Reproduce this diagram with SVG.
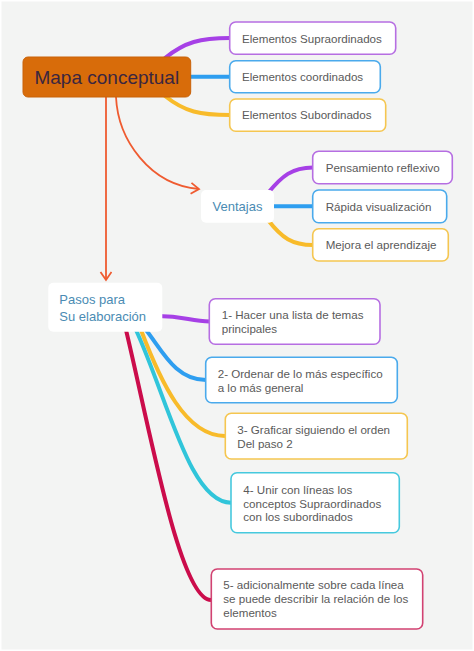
<svg xmlns="http://www.w3.org/2000/svg" width="474" height="651" viewBox="0 0 474 651">
<style>
  .bx{fill:#fff;stroke-width:1.6}
  .t{font-family:"Liberation Sans",Arial,sans-serif;font-size:11.6px;fill:#5a5a5a}
  .s{font-family:"Liberation Sans",Arial,sans-serif;font-size:13px;fill:#4a8bb3}
  .c{fill:none;stroke-width:4;stroke-linecap:round}
  .ar{fill:none;stroke:#ef5b30;stroke-width:1.8}
  .pu{stroke:#a640e6}.bl{stroke:#2e9ef0}.ye{stroke:#f8bb2a}.cy{stroke:#30c5da}.cr{stroke:#cb0c4b}
</style>
<defs>
  <marker id="ah" markerUnits="userSpaceOnUse" markerWidth="12" markerHeight="14" refX="9" refY="6" orient="auto">
    <path d="M1,0.5 L9,6 L1,11.5" fill="none" stroke="#ef5b30" stroke-width="1.8"/>
  </marker>
</defs>
<rect x="1.5" y="1.5" width="471" height="648" fill="#f3f4f3"/>
<g id="connectors">
  <path class="c pu" d="M165,58 C185,42 200,38 230,38"/>
  <path class="c bl" d="M188,76.7 L230,76.7"/>
  <path class="c ye" d="M165,96 C185,112 200,115 230,115"/>
  <path class="c pu" d="M268,193 C282,176 292,167.5 313,167.5"/>
  <path class="c bl" d="M272,206.3 L313,206.3"/>
  <path class="c ye" d="M268,220 C282,238 292,245 313,245"/>
  <path class="c pu" d="M158,316 C185,316 190,321.5 210,321.5"/>
  <path class="c bl" d="M146,330 C162,350 175,380 206,380"/>
  <path class="c ye" d="M141,330 C160,380 185,436 225,436"/>
  <path class="c cy" d="M136,330 C168,400 190,502.7 231,502.7"/>
  <path class="c cr" d="M126,330 C150,430 180,600 211,600"/>
  <path class="ar" d="M106,97 L106,280" marker-end="url(#ah)"/>
  <path class="ar" d="M116,97 C118,140 150,185 199,189" marker-end="url(#ah)"/>
</g>
<g id="main">
  <rect x="23" y="57" width="167.7" height="40" rx="5" fill="#d86c0a" stroke="#c96208" stroke-width="1"/>
  <text x="106.8" y="83.5" text-anchor="middle" font-family="'Liberation Sans',Arial,sans-serif" font-size="19" fill="#3a2640">Mapa conceptual</text>
</g>
<g id="sup">
  <rect class="bx" x="229.7" y="22" width="166" height="32.3" rx="6" stroke="#b66ee2"/>
  <text class="t" x="242" y="42.5">Elementos Supraordinados</text>
</g>
<g id="coord">
  <rect class="bx" x="229.7" y="60.7" width="150.6" height="32" rx="6" stroke="#4aaaec"/>
  <text class="t" x="242" y="80.8">Elementos coordinados</text>
</g>
<g id="sub">
  <rect class="bx" x="229.7" y="99" width="156" height="32.3" rx="6" stroke="#f5c650"/>
  <text class="t" x="242" y="119.3">Elementos Subordinados</text>
</g>
<g id="ventajas">
  <rect x="201" y="190" width="73" height="32.7" rx="5" fill="#fff"/>
  <text class="s" x="237.5" y="211" text-anchor="middle" font-size="12.3">Ventajas</text>
</g>
<g id="pens">
  <rect class="bx" x="312.7" y="151.3" width="139.6" height="32.4" rx="6" stroke="#b66ee2"/>
  <text class="t" x="325.7" y="171.6">Pensamiento reflexivo</text>
</g>
<g id="rapida">
  <rect class="bx" x="312.7" y="190" width="134" height="32.7" rx="6" stroke="#4aaaec"/>
  <text class="t" x="325.7" y="210.5">Rápida visualización</text>
</g>
<g id="mejora">
  <rect class="bx" x="312.7" y="228.7" width="135.6" height="32.3" rx="6" stroke="#f5c650"/>
  <text class="t" x="325.7" y="249">Mejora el aprendizaje</text>
</g>
<g id="pasos">
  <rect x="48.3" y="282.7" width="114" height="49" rx="5" fill="#fff"/>
  <text class="s" x="59.3" y="304.3">Pasos para</text>
  <text class="s" x="59.3" y="320.8">Su elaboración</text>
</g>
<g id="paso1">
  <rect class="bx" x="209.3" y="298.7" width="170.7" height="45.6" rx="6" stroke="#b66ee2"/>
  <text class="t" x="221.7" y="319">1- Hacer una lista de temas</text>
  <text class="t" x="221.7" y="333">principales</text>
</g>
<g id="paso2">
  <rect class="bx" x="205.7" y="357.3" width="191.6" height="45.4" rx="6" stroke="#4aaaec"/>
  <text class="t" x="217.7" y="377.5">2- Ordenar de lo más específico</text>
  <text class="t" x="217.7" y="391.5">a lo más general</text>
</g>
<g id="paso3">
  <rect class="bx" x="225.3" y="413.3" width="182" height="45.7" rx="6" stroke="#f5c650"/>
  <text class="t" x="237.3" y="433.5">3- Graficar siguiendo el orden</text>
  <text class="t" x="237.3" y="447.5">Del paso 2</text>
</g>
<g id="paso4">
  <rect class="bx" x="231" y="472.7" width="168.3" height="60" rx="6" stroke="#46c9de"/>
  <text class="t" x="243.3" y="493.5">4- Unir con líneas los</text>
  <text class="t" x="243.3" y="507.5">conceptos Supraordinados</text>
  <text class="t" x="243.3" y="521">con los subordinados</text>
</g>
<g id="paso5">
  <rect class="bx" x="211.3" y="569" width="211.4" height="60" rx="6" stroke="#d24272"/>
  <text class="t" x="223.3" y="589">5- adicionalmente sobre cada línea</text>
  <text class="t" x="223.3" y="603.3">se puede describir la relación de los</text>
  <text class="t" x="223.3" y="617.3">elementos</text>
</g>
</svg>
